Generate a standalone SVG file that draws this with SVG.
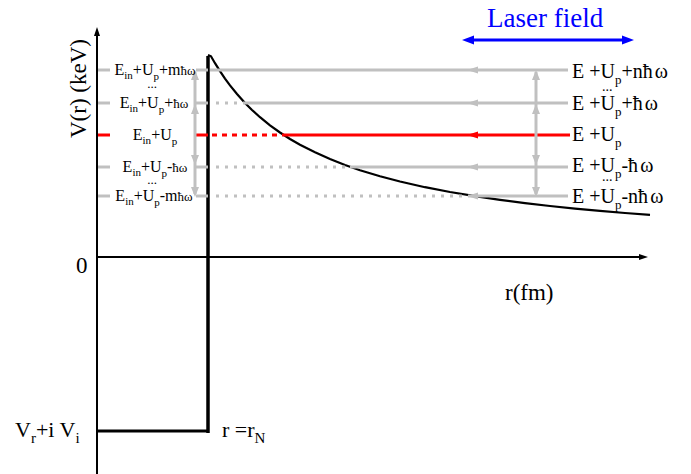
<svg xmlns="http://www.w3.org/2000/svg" width="691" height="474" viewBox="0 0 691 474" font-family="'Liberation Serif','Times New Roman',serif">
<style>
text{font-family:"Liberation Serif","Times New Roman",serif;fill:#000}
.g{stroke:#c0c0c0;stroke-width:3;fill:none}
.gd{stroke:#c0c0c0;stroke-width:3;fill:none;stroke-dasharray:3 6}
.r{stroke:#ff0000;stroke-width:3;fill:none}
.rd{stroke:#ff0000;stroke-width:3;fill:none;stroke-dasharray:5 5}
.gh{fill:#c0c0c0}
.rh{fill:#ff0000}
.ax{stroke:#000;stroke-width:2;fill:none}
.ll{font-size:16px}
.rl{font-size:20px}
</style>
<rect width="691" height="474" fill="#fff"/>
<g id="axes">
<line class="ax" x1="97" y1="33" x2="97" y2="474"/>
<polygon points="97,27 94,36 100,36" fill="#000"/>
<line class="ax" x1="97" y1="257" x2="642" y2="257"/>
<polygon points="648,257 639,254 639,260" fill="#000"/>
<text x="0" y="0" font-size="23" transform="translate(86,138) rotate(-90)">V(r) (keV)</text>
<text x="76" y="273" font-size="23">0</text>
<text x="505" y="300" font-size="23">r(fm)</text>
</g>
<g id="potential">
<polyline points="97,431 208,431" stroke="#000" stroke-width="3" fill="none"/>
<line x1="208" y1="56" x2="208" y2="433" stroke="#000" stroke-width="3.5"/>
<polyline fill="none" stroke="#000" stroke-width="2.2" points="208,55 211,56.3 215,63.2 220,71.2 225,78.6 230,85.4 237,94 245,102.9 252,110 260,117.2 270,125.3 280,132.5 290,139 300,144.7 315,152.3 330,159.1 345,165 360,170.2 380,176.2 400,181.5 425,187.2 450,192 475,196.2 500,199.9 525,203.1 550,206 575,208.6 600,210.9 625,213 650,214.9"/>
<text x="15" y="437" font-size="22">V<tspan font-size="15" dy="6">r</tspan><tspan dy="-6">+i V</tspan><tspan font-size="15" dy="6">i</tspan></text>
<text x="222" y="437" font-size="22">r =r<tspan font-size="15" dy="6">N</tspan></text>
</g>
<g id="connectors">
<line class="g" x1="98" y1="70" x2="110" y2="70"/>
<line class="g" x1="98" y1="103" x2="110" y2="103"/>
<line class="r" x1="98" y1="135" x2="110" y2="135"/>
<line class="g" x1="98" y1="167" x2="110" y2="167"/>
<line class="g" x1="98" y1="196" x2="110" y2="196"/>
<line class="g" x1="196" y1="70" x2="208" y2="70"/>
<line class="g" x1="196" y1="103" x2="208" y2="103"/>
<line class="r" x1="196" y1="135" x2="208" y2="135"/>
<line class="g" x1="196" y1="167" x2="208" y2="167"/>
<line class="g" x1="196" y1="196" x2="208" y2="196"/>
<line class="g" x1="210" y1="70" x2="568" y2="70"/>
<line class="gd" x1="216" y1="103" x2="245" y2="103"/>
<line class="g" x1="245" y1="103" x2="568" y2="103"/>
<line class="rd" x1="212" y1="135" x2="286" y2="135"/>
<line class="r" x1="286" y1="135" x2="570" y2="135"/>
<line class="gd" x1="216" y1="167" x2="350" y2="167"/>
<line class="g" x1="350" y1="167" x2="568" y2="167"/>
<line class="gd" x1="216" y1="196" x2="470" y2="196"/>
<line class="g" x1="470" y1="196" x2="568" y2="196"/>
<polygon class="gh" points="467,70 478,66.5 478,73.5"/>
<polygon class="gh" points="467,103 478,99.5 478,106.5"/>
<polygon class="rh" points="467,135 478,131.5 478,138.5"/>
<polygon class="gh" points="467,167 478,163.5 478,170.5"/>
<polygon class="gh" points="467,196 478,192.5 478,199.5"/>
<line class="g" x1="195" y1="72" x2="195" y2="194"/>
<polygon class="gh" points="195,70 191,80 199,80"/>
<polygon class="gh" points="195,104 191,114 199,114"/>
<polygon class="gh" points="195,165 191,155 199,155"/>
<polygon class="gh" points="195,197 191,187 199,187"/>
<line class="g" x1="536" y1="72" x2="536" y2="194"/>
<polygon class="gh" points="536,70 532,80 540,80"/>
<polygon class="gh" points="536,104 532,114 540,114"/>
<polygon class="gh" points="536,165 532,155 540,155"/>
<polygon class="gh" points="536,197 532,187 540,187"/>
<line x1="470" y1="40" x2="626" y2="40" stroke="#0000ff" stroke-width="3"/>
<polygon points="462,40 474,35.5 474,44.5" fill="#0000ff"/>
<polygon points="634,40 622,35.5 622,44.5" fill="#0000ff"/>
</g>
<g id="left-labels">
<text class="ll" x="155" y="75" text-anchor="middle">E<tspan font-size="11" dy="4">in</tspan><tspan dy="-4">+U</tspan><tspan font-size="11" dy="5">p</tspan><tspan dy="-5">+m</tspan><tspan font-size="13">ħω</tspan></text>
<text x="152" y="88" text-anchor="middle" font-size="13">...</text>
<text class="ll" x="154" y="108" text-anchor="middle">E<tspan font-size="11" dy="4">in</tspan><tspan dy="-4">+U</tspan><tspan font-size="11" dy="5">p</tspan><tspan dy="-5">+</tspan><tspan font-size="13">ħω</tspan></text>
<text class="ll" x="155" y="140" text-anchor="middle">E<tspan font-size="11" dy="4">in</tspan><tspan dy="-4">+U</tspan><tspan font-size="11" dy="5">p</tspan></text>
<text class="ll" x="155" y="172" text-anchor="middle">E<tspan font-size="11" dy="4">in</tspan><tspan dy="-4">+U</tspan><tspan font-size="11" dy="5">p</tspan><tspan dy="-5">-</tspan><tspan font-size="13">ħω</tspan></text>
<text x="152" y="184" text-anchor="middle" font-size="13">...</text>
<text class="ll" x="154" y="201" text-anchor="middle">E<tspan font-size="11" dy="4">in</tspan><tspan dy="-4">+U</tspan><tspan font-size="11" dy="5">p</tspan><tspan dy="-5">-m</tspan><tspan font-size="13">ħω</tspan></text>
</g>
<g id="right-labels">
<text class="rl" x="572" y="78">E +U<tspan font-size="13" dy="6">p</tspan><tspan dy="-6">+nħ</tspan><tspan dx="2">ω</tspan></text>
<text x="602" y="91" font-size="14">...</text>
<text class="rl" x="572" y="110">E +U<tspan font-size="13" dy="6">p</tspan><tspan dy="-6">+ħ</tspan><tspan dx="2">ω</tspan></text>
<text class="rl" x="572" y="141">E +U<tspan font-size="13" dy="6">p</tspan></text>
<text class="rl" x="572" y="172">E +U<tspan font-size="13" dy="6">p</tspan><tspan dy="-6">-ħ</tspan><tspan dx="2">ω</tspan></text>
<text x="602" y="181" font-size="14">...</text>
<text class="rl" x="572" y="203">E +U<tspan font-size="13" dy="6">p</tspan><tspan dy="-6">-nħ</tspan><tspan dx="2">ω</tspan></text>
</g>
<g id="laser-label">
<text x="487" y="27" font-size="27" style="fill:#0000ff">Laser field</text>
</g>
</svg>
